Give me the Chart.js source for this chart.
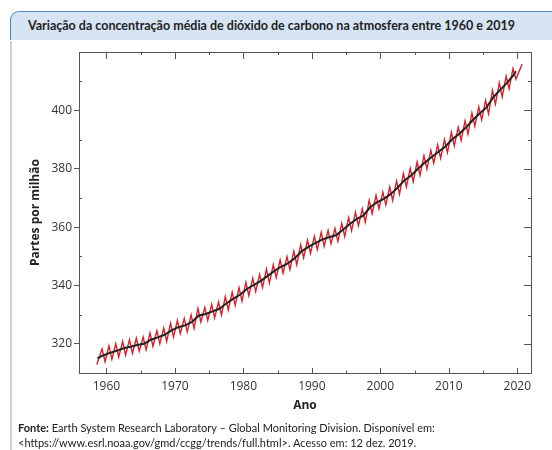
<!DOCTYPE html>
<html><head><meta charset="utf-8">
<script src="https://cdn.jsdelivr.net/npm/chart.js@4/dist/chart.umd.min.js"></script>
<style>
html,body{margin:0;padding:0;width:552px;height:450px;overflow:hidden;background:#fff;}
#bar{position:absolute;left:10px;top:11px;width:560px;height:28px;background:#d6e4f4;border-top:1.5px solid #4f88c6;border-left:1.5px solid #4f88c6;border-top-left-radius:9px;}
#title{position:absolute;left:10px;top:11px;width:523px;height:30px;line-height:30px;text-align:center;font-family:Lato,sans-serif;font-weight:bold;font-size:12.5px;color:#222;white-space:nowrap;}
#side{position:absolute;left:10px;top:41px;width:1.5px;height:420px;background:#d0d0d0;}
#foot{position:absolute;left:18px;top:420px;font-family:Lato,sans-serif;font-size:11px;line-height:15px;color:#222;white-space:nowrap;}
canvas{position:absolute;left:0;top:0;}
</style></head>
<body>
<div id="bar"></div><div id="side"></div>
<div id="title">Variação da concentração média de dióxido de carbono na atmosfera entre 1960 e 2019</div>
<canvas id="c" width="552" height="450"></canvas>
<div id="foot"><b>Fonte:</b> Earth System Research Laboratory – Global Monitoring Division. Disponível em:<br>&lt;https://www.esrl.noaa.gov/gmd/ccgg/trends/full.html&gt;. Acesso em: 12 dez. 2019.</div>
<script>
// ---- data ----
const xTickYears = [1960, 1970, 1980, 1990, 2000, 2010, 2020];
const yTickValues = [320, 330, 340, 350, 360, 370, 380, 390, 400, 410];

// black trend line
const trendYears = [1958.7, 1959.5, 1960.5, 1961.5, 1962.5, 1963.5, 1964.5, 1965.5, 1966.5, 1967.5, 1968.5,
  1969.5, 1970.5, 1971.5, 1972.5, 1973.5, 1974.5, 1975.5, 1976.5, 1977.5, 1978.5,
  1979.5, 1980.5, 1981.5, 1982.5, 1983.5, 1984.5, 1985.5, 1986.5, 1987.5, 1988.5,
  1989.5, 1990.5, 1991.5, 1992.5, 1993.5, 1994.5, 1995.5, 1996.5, 1997.5, 1998.5,
  1999.5, 2000.5, 2001.5, 2002.5, 2003.5, 2004.5, 2005.5, 2006.5, 2007.5, 2008.5,
  2009.5, 2010.5, 2011.5, 2012.5, 2013.5, 2014.5, 2015.5, 2016.5, 2017.5, 2018.5,
  2019.5, 2019.8];
const trendPpm = [315.0, 316.0, 316.9, 317.6, 318.5, 319.0, 319.6, 320.0, 321.4, 322.2, 323.1,
  324.6, 325.7, 326.3, 327.5, 329.7, 330.2, 331.1, 332.0, 333.8, 335.4,
  336.8, 338.8, 340.1, 341.5, 343.2, 344.9, 346.4, 347.6, 349.3, 351.7,
  353.2, 354.5, 355.7, 356.5, 357.2, 359.0, 361.0, 362.7, 363.9, 366.8,
  368.5, 369.7, 371.3, 373.5, 376.0, 377.7, 380.0, 382.1, 384.0, 385.8,
  387.6, 390.1, 391.9, 394.1, 396.7, 398.9, 401.0, 404.5, 407.0, 409.4,
  412.2, 413.4];

// red seasonal line: yearly maximum (about May) and minimum (about October)
const seasonYears = [1959, 1960, 1961, 1962, 1963, 1964, 1965, 1966, 1967, 1968,
  1969, 1970, 1971, 1972, 1973, 1974, 1975, 1976, 1977, 1978,
  1979, 1980, 1981, 1982, 1983, 1984, 1985, 1986, 1987, 1988,
  1989, 1990, 1991, 1992, 1993, 1994, 1995, 1996, 1997, 1998,
  1999, 2000, 2001, 2002, 2003, 2004, 2005, 2006, 2007, 2008,
  2009, 2010, 2011, 2012, 2013, 2014, 2015, 2016, 2017, 2018, 2019];
const peakPpm = [318.3, 319.3, 320.0, 320.8, 321.4, 321.9, 322.3, 323.7, 324.5, 325.4,
  327.0, 328.0, 328.7, 329.9, 332.1, 332.5, 333.5, 334.3, 336.2, 337.7,
  339.2, 341.1, 342.5, 343.8, 345.6, 347.1, 348.7, 349.9, 351.7, 354.0,
  355.5, 356.8, 358.2, 358.9, 359.5, 361.3, 363.3, 365.1, 366.2, 369.2,
  370.9, 372.0, 373.7, 375.8, 378.4, 380.1, 382.3, 384.5, 386.3, 388.2,
  390.0, 392.5, 394.2, 396.4, 399.1, 401.2, 403.4, 406.9, 409.4, 411.7, 414.3];
const troughPpm = [313.9, 314.7, 315.5, 316.2, 316.8, 317.5, 317.9, 319.1, 320.0, 320.9,
  322.4, 323.5, 324.1, 325.3, 327.5, 328.0, 328.9, 329.9, 331.6, 333.2,
  334.6, 336.5, 337.9, 339.3, 340.9, 342.7, 344.2, 345.4, 347.1, 349.5,
  351.0, 352.3, 353.4, 354.3, 355.1, 356.8, 358.8, 360.5, 361.7, 364.6,
  366.3, 367.6, 369.1, 371.3, 373.8, 375.5, 377.8, 379.9, 381.9, 383.6,
  385.5, 387.9, 389.7, 391.9, 394.6, 396.7, 398.8, 402.1, 404.6, 407.4, 410.7];
const firstReading = [1958.6, 312.9];
const lastReading = [2020.7, 415.8];

// ---- build datasets ----
const trendData = trendYears.map((yr, i) => ({x: yr, y: trendPpm[i]}));
const seasonData = [{x: firstReading[0], y: firstReading[1]}];
seasonYears.forEach((yr, i) => {
  seasonData.push({x: yr + 0.37, y: peakPpm[i]});
  seasonData.push({x: yr + 0.8, y: troughPpm[i]});
});
seasonData.push({x: lastReading[0], y: lastReading[1]});

const AXIS = '#555';
const frameTicks = {
  id: 'frameTicks',
  afterDraw(chart) {
    const {ctx, chartArea: a, scales: {x, y}} = chart;
    ctx.save();
    ctx.strokeStyle = AXIS; ctx.lineWidth = 1;
    ctx.beginPath();
    ctx.moveTo(a.left, a.top + 0.5); ctx.lineTo(a.right + 0.5, a.top + 0.5);
    ctx.moveTo(a.right + 0.5, a.top); ctx.lineTo(a.right + 0.5, a.bottom);
    for (let v = 1960; v <= 2020; v += 5) {
      const px = Math.round(x.getPixelForValue(v)) + 0.5;
      const major = v % 10 === 0;
      ctx.moveTo(px, a.bottom); ctx.lineTo(px, a.bottom - (major ? 5 : 2.5));
      ctx.moveTo(px, a.top); ctx.lineTo(px, a.top + (major ? 7 : 3));
    }
    yTickValues.forEach(v => {
      const py = Math.round(y.getPixelForValue(v)) + 0.5;
      const major = v % 20 === 0;
      if (!major) { ctx.moveTo(a.left, py); ctx.lineTo(a.left + 3, py); }
      ctx.moveTo(a.right, py); ctx.lineTo(a.right - (major ? 7 : 3), py);
    });
    ctx.stroke();
    ctx.restore();
  }
};

new Chart(document.getElementById('c'), {
  type: 'line',
  data: {
    datasets: [
      {data: trendData, borderColor: '#222', borderWidth: 2, pointRadius: 0, tension: 0, order: 1},
      {data: seasonData, borderColor: '#d7202a', borderWidth: 1.4, pointRadius: 0, tension: 0, order: 2}
    ]
  },
  options: {
    responsive: false, animation: false, devicePixelRatio: 1,
    layout: {padding: {left: 28, top: 52, right: 21, bottom: 37}},
    plugins: {legend: {display: false}, tooltip: {enabled: false}},
    scales: {
      x: {
        type: 'linear', min: 1956, max: 2022,
        afterBuildTicks: s => { s.ticks = xTickYears.map(v => ({value: v})); },
        afterFit: s => { s.height = 40; },
        grid: {drawOnChartArea: false, drawTicks: false},
        border: {color: AXIS, width: 1},
        ticks: {color: '#333', padding: 6, font: {family: 'Open Sans', size: 12}, maxRotation: 0,
          callback: v => String(v)},
        title: {display: true, text: 'Ano', color: '#222', padding: 0, font: {family: 'Open Sans', size: 12, weight: 'bold'}}
      },
      y: {
        type: 'linear', min: 310, max: 420,
        afterBuildTicks: s => { s.ticks = yTickValues.map(v => ({value: v})); },
        afterFit: s => { s.width = 51; },
        grid: {drawOnChartArea: false, tickLength: 5, tickColor: c => (c.tick && c.tick.value % 20 === 0) ? AXIS : 'rgba(0,0,0,0)'},
        border: {color: AXIS, width: 1},
        ticks: {color: '#333', padding: 2, font: {family: 'Open Sans', size: 12},
          callback: v => (v % 20 === 0 ? String(v) : '')},
        title: {display: true, text: 'Partes por milhão', color: '#222', padding: 0, font: {family: 'Open Sans', size: 12, weight: 'bold'}}
      }
    }
  },
  plugins: [frameTicks]
});
</script>
</body></html>
